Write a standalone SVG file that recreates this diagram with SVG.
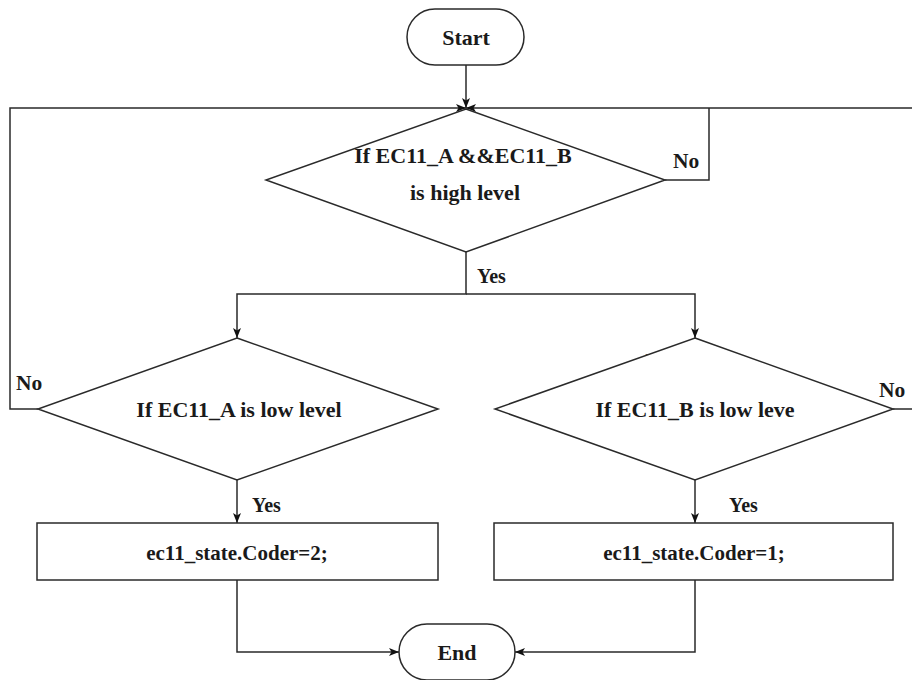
<svg xmlns="http://www.w3.org/2000/svg" width="912" height="680" viewBox="0 0 912 680">
  <defs>
    <marker id="arrow" viewBox="0 0 10 10" refX="10" refY="5" markerWidth="10" markerHeight="10" markerUnits="userSpaceOnUse" orient="auto">
      <path d="M0,1 L10,5 L0,9 L2.5,5 Z" fill="#111"/>
    </marker>
    <style>
      .shape { fill: #fff; stroke: #2a2a2a; stroke-width: 1.5; }
      .edge { fill: none; stroke: #2a2a2a; stroke-width: 1.5; }
      text { font-family: "Liberation Serif", Tinos, "DejaVu Serif", serif; fill: #1a1a1a; }
      .t { font-weight: bold; font-size: 22px; text-anchor: middle; }
      .box { font-size: 21px; }
      .lbl { font-weight: bold; font-size: 20px; }
      .no { font-size: 21.5px; }
      .lblr { font-weight: normal; font-size: 22px; }
    </style>
  </defs>
  <rect width="912" height="680" fill="#fff"/>

  <!-- connectors -->
  <g id="connectors">
    <path class="edge" d="M466,65 V108" marker-end="url(#arrow)"/>
    <path class="edge" d="M38,409 H10 V108 H466" marker-end="url(#arrow)"/>
    <path class="edge" d="M893,409 H925 V108 H466" marker-end="url(#arrow)"/>
    <path class="edge" d="M665,180 H709 V108"/>
    <path class="edge" d="M466,252 V294 H237 V338" marker-end="url(#arrow)"/>
    <path class="edge" d="M466,294 H695 V338" marker-end="url(#arrow)"/>
    <path class="edge" d="M237,480 V523" marker-end="url(#arrow)"/>
    <path class="edge" d="M695,480 V523" marker-end="url(#arrow)"/>
    <path class="edge" d="M237,580 V652 H399" marker-end="url(#arrow)"/>
    <path class="edge" d="M695,580 V652 H515" marker-end="url(#arrow)"/>
    <text class="lbl" x="477" y="283">Yes</text>
    <text class="lbl no" x="673" y="168">No</text>
    <text class="lbl no" x="16" y="390">No</text>
    <text class="lblr" x="645" y="368">No</text>
    <text class="lbl no" x="879" y="397">No</text>
    <text class="lbl" x="252" y="512">Yes</text>
    <text class="lbl" x="729" y="512">Yes</text>
  </g>

  <g id="start">
    <rect class="shape" x="407" y="9" width="117" height="56" rx="28" ry="28"/>
    <text class="t" x="466" y="45">Start</text>
  </g>

  <g id="check-both-high">
    <polygon class="shape" points="466,109 665,180 466,252 266,180"/>
    <text class="t" x="463" y="163">If EC11_A &amp;&amp;EC11_B</text>
    <text class="t" x="465" y="200">is high level</text>
  </g>

  <g id="check-a-low">
    <polygon class="shape" points="237,338 438,409 237,480 38,409"/>
    <text class="t" x="239" y="417">If EC11_A is low level</text>
  </g>

  <g id="check-b-low">
    <polygon class="shape" points="695,338 893,409 695,480 495,409"/>
    <text class="t" x="695" y="417">If EC11_B is low leve</text>
  </g>

  <g id="set-coder-2">
    <rect class="shape" x="37" y="523" width="401" height="57"/>
    <text class="t box" x="237" y="560">ec11_state.Coder=2;</text>
  </g>

  <g id="set-coder-1">
    <rect class="shape" x="494" y="523" width="399" height="57"/>
    <text class="t box" x="694" y="560">ec11_state.Coder=1;</text>
  </g>

  <g id="end">
    <rect class="shape" x="399" y="624" width="116" height="56" rx="28" ry="28"/>
    <text class="t" x="457" y="660">End</text>
  </g>
</svg>
